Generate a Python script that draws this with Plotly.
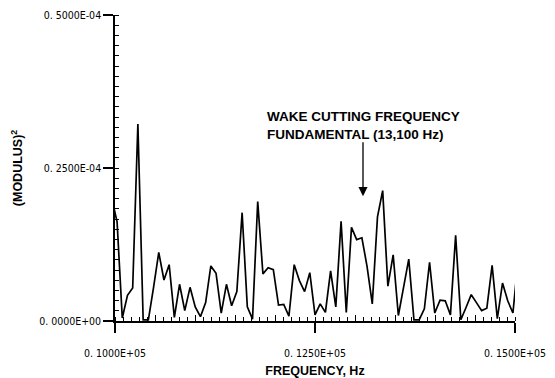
import plotly.graph_objects as go

# FFT bin frequencies (Hz) shown on the plot
freq_hz = [9961, 10026, 10091, 10156, 10221, 10286, 10352, 10417, 10482, 10547,
           10612, 10677, 10742, 10807, 10872, 10938, 11003, 11068, 11133, 11198,
           11263, 11328, 11393, 11458, 11523, 11589, 11654, 11719, 11784, 11849,
           11914, 11979, 12044, 12109, 12174, 12240, 12305, 12370, 12435, 12500,
           12565, 12630, 12695, 12760, 12826, 12891, 12956, 13021, 13086, 13151,
           13216, 13281, 13346, 13411, 13477, 13542, 13607, 13672, 13737, 13802,
           13867, 13932, 13997, 14063, 14128, 14193, 14258, 14323, 14388, 14453,
           14518, 14583, 14648, 14714, 14779, 14844, 14909, 14974, 15039]

# (modulus)^2 in units of 1e-5
modulus_sq_e5 = [2.00, 1.62, 0.05, 0.42, 0.54, 3.22, 0.02, 0.02, 0.55, 1.12,
                 0.67, 0.92, 0.06, 0.60, 0.17, 0.55, 0.23, 0.07, 0.30, 0.90,
                 0.78, 0.13, 0.60, 0.25, 0.48, 1.77, 0.23, 0.03, 1.95, 0.77,
                 0.87, 0.84, 0.26, 0.27, 0.08, 0.92, 0.66, 0.48, 0.79, 0.10,
                 0.28, 0.14, 0.82, 0.23, 1.63, 0.14, 1.53, 1.33, 1.36, 0.89,
                 0.28, 1.70, 2.13, 0.57, 1.08, 0.09, 0.55, 1.01, 0.02, 0.02,
                 0.20, 0.96, 0.13, 0.34, 0.33, 0.10, 1.40, 0.02, 0.22, 0.43,
                 0.30, 0.17, 0.21, 0.91, 0.04, 0.62, 0.33, 0.13, 1.00]

x_tick_vals = [10000, 12500, 15000]
x_tick_text = ["0. 1000E+05", "0. 1250E+05", "0. 1500E+05"]
x_mid_ticks = [10500, 11000, 11500, 12000, 13000, 13500, 14000, 14500]
y_tick_vals = [0.0, 2.5e-5, 5.0e-5]
y_tick_text = ["0. 0000E+00", "0. 2500E-04", "0. 5000E-04"]

wake_freq = 13100
wake_level = 2.04e-5

y_vals = [v * 1e-5 for v in modulus_sq_e5]

tick_font = dict(family="Liberation Sans Narrow, DejaVu Sans Condensed, Arial Narrow, sans-serif",
                 size=10.5, color="black")
title_font = dict(family="Liberation Sans, Arial, Helvetica, sans-serif", size=12.5, color="black")
note_font = dict(family="Liberation Sans, Arial, Helvetica, sans-serif", size=13.5, color="black")

fig = go.Figure()
fig.add_trace(go.Scatter(x=freq_hz, y=y_vals, mode="lines",
                         line=dict(color="black", width=1.7), cliponaxis=True,
                         hoverinfo="skip", showlegend=False))
fig.add_trace(go.Scatter(x=freq_hz, y=y_vals, mode="lines", xaxis="x2",
                         line=dict(color="rgba(0,0,0,0)", width=0),
                         hoverinfo="skip", showlegend=False))

fig.update_layout(
    width=555, height=378,
    margin=dict(l=115, r=40, t=15, b=57, autoexpand=False),
    paper_bgcolor="white", plot_bgcolor="white",
    xaxis=dict(range=[10000, 15000], tickvals=x_tick_vals, ticktext=x_tick_text,
               ticks="outside", ticklen=10, tickwidth=1.5, tickcolor="black",
               showline=True, linecolor="black", linewidth=1.5,
               showgrid=False, zeroline=False, tickfont=tick_font,
               ticklabelstandoff=12, automargin=False,
               minor=dict(dtick=100, tick0=10000, ticks="inside", ticklen=4,
                          tickwidth=1, tickcolor="black", showgrid=False),
               title=dict(text="<b>FREQUENCY, Hz</b>", font=title_font, standoff=10)),
    xaxis2=dict(overlaying="x", matches="x", side="bottom", anchor="y",
                tickvals=x_mid_ticks, ticks="inside", ticklen=6, tickwidth=1,
                tickcolor="black", showticklabels=False, showline=False,
                showgrid=False, zeroline=False, automargin=False),
    yaxis=dict(range=[0, 5e-5], tickvals=y_tick_vals, ticktext=y_tick_text,
               ticks="outside", ticklen=10, tickwidth=1.5, tickcolor="black",
               showline=True, linecolor="black", linewidth=1.5,
               showgrid=False, zeroline=False, tickfont=tick_font, automargin=False,
               minor=dict(dtick=5e-5 / 30, tick0=0, ticks="inside", ticklen=4,
                          tickwidth=1, tickcolor="black", showgrid=False),
               title=dict(text="<b>(MODULUS)<sup>2</sup></b>", font=title_font, standoff=14)),
)

fig.add_annotation(x=wake_freq, y=wake_level, xref="x", yref="y",
                   text="<b>WAKE CUTTING FREQUENCY</b><br><b>FUNDAMENTAL (13,100 Hz)</b>",
                   align="left", showarrow=True, ax=0, ay=-71, borderpad=0,
                   arrowhead=2, arrowsize=1.4, arrowwidth=1.3,
                   arrowcolor="black", font=note_font)

fig.write_html("out.html")
